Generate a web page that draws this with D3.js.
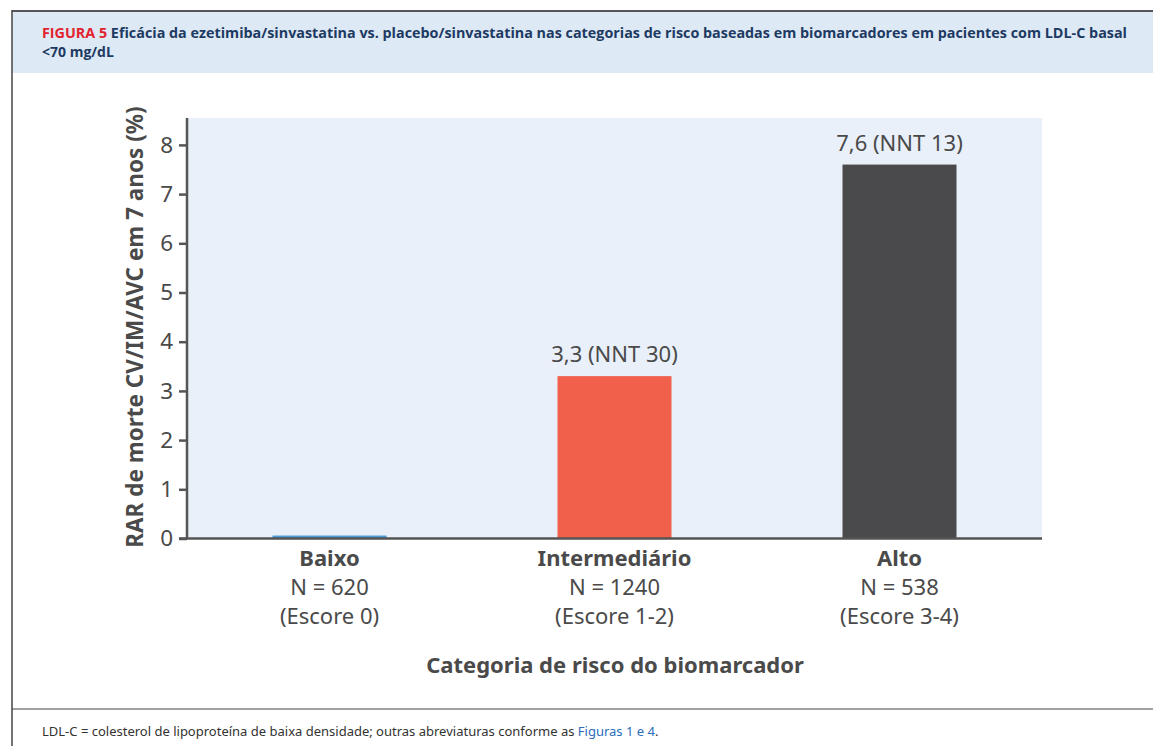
<!DOCTYPE html>
<html>
<head>
<meta charset="utf-8">
<script src="https://cdn.jsdelivr.net/npm/d3@7"></script>
<style>
  body { margin: 0; background: #fff; }
  svg { display: block; }
</style>
</head>
<body>
<svg id="chart" width="1153" height="746"></svg>
<script>
// figure 5 - RAR by biomarker risk category
var categories = ["Baixo", "Intermediário", "Alto"];
var nLabels = ["N = 620", "N = 1240", "N = 538"];
var scoreLabels = ["(Escore 0)", "(Escore 1-2)", "(Escore 3-4)"];
var rarValues = [0.06, 3.3, 7.6];
var valueLabels = ["", "3,3 (NNT 30)", "7,6 (NNT 13)"];
var barColors = ["#4a9bd6", "#f0604a", "#4a4a4d"];
var yTicks = [0, 1, 2, 3, 4, 5, 6, 7, 8];

const W = 1153, H = 746;
const plotLeft = 187, plotRight = 1042, plotTop = 118, plotBottom = 538.5;
const font = "'Noto Sans', 'Open Sans', sans-serif";

var svg = d3.select("#chart");

// frame + header band
svg.append("rect").attr("x", 12).attr("y", 11).attr("width", W - 12).attr("height", 62)
  .attr("fill", "#dde9f5");
svg.append("line").attr("x1", 12).attr("x2", W).attr("y1", 11).attr("y2", 11)
  .attr("stroke", "#555").attr("stroke-width", 2);
svg.append("line").attr("x1", 12).attr("x2", 12).attr("y1", 10).attr("y2", H)
  .attr("stroke", "#444").attr("stroke-width", 1.5);
svg.append("line").attr("x1", 12).attr("x2", W).attr("y1", 709).attr("y2", 709)
  .attr("stroke", "#444").attr("stroke-width", 1.2);

var title1 = svg.append("text")
  .attr("x", 42).attr("y", 38)
  .attr("font-family", "'Liberation Sans Narrow', 'Open Sans', sans-serif")
  .attr("font-weight", "bold").attr("font-size", 14)
  .attr("textLength", 1085).attr("lengthAdjust", "spacingAndGlyphs");
title1.append("tspan").attr("fill", "#e2232f").text("FIGURA 5  ");
title1.append("tspan").attr("fill", "#1d3a63")
  .text("Eficácia da ezetimiba/sinvastatina vs. placebo/sinvastatina nas categorias de risco baseadas em biomarcadores em pacientes com LDL-C basal");
svg.append("text")
  .attr("x", 42).attr("y", 57)
  .attr("font-family", "'Liberation Sans Narrow', 'Open Sans', sans-serif")
  .attr("font-weight", "bold").attr("font-size", 14)
  .attr("fill", "#1d3a63").text("<70 mg/dL");

// scales
var x = d3.scaleBand().domain(categories).range([plotLeft, plotRight])
  .paddingInner(0.6).paddingOuter(0.3);
var y = d3.scaleLinear().domain([0, 8]).range([plotBottom, plotBottom - 8 * 49.2]);

svg.append("rect")
  .attr("x", plotLeft).attr("y", plotTop)
  .attr("width", plotRight - plotLeft).attr("height", plotBottom - plotTop)
  .attr("fill", "#e9f0f9");

// bars
svg.append("g").selectAll("rect")
  .data(categories)
  .enter()
  .append("rect")
    .attr("x", function(d) { return x(d); })
    .attr("y", function(d, i) { return y(rarValues[i]); })
    .attr("width", x.bandwidth())
    .attr("height", function(d, i) { return y(0) - y(rarValues[i]); })
    .attr("fill", function(d, i) { return barColors[i]; });

// value labels
svg.append("g").selectAll("text")
  .data(categories)
  .enter()
  .append("text")
    .attr("x", function(d) { return x(d) + x.bandwidth() / 2; })
    .attr("y", function(d, i) { return y(rarValues[i]) - 14; })
    .attr("text-anchor", "middle")
    .attr("font-family", font).attr("font-size", 22).attr("fill", "#4a4a4a")
    .text(function(d, i) { return valueLabels[i]; });

// y axis
var yAxis = d3.axisLeft(y).tickValues(yTicks).tickSize(8).tickPadding(6).tickFormat(d3.format("d"));
var gy = svg.append("g").attr("transform", "translate(" + plotLeft + ",0)").call(yAxis);
gy.select(".domain").attr("stroke", "#555").attr("stroke-width", 2.5)
  .attr("d", "M0," + plotTop + "V" + plotBottom);
gy.selectAll(".tick line").attr("stroke", "#555").attr("stroke-width", 2.5);
gy.selectAll(".tick text").attr("font-family", font).attr("font-size", 22.5).attr("fill", "#4a4a4a");

// x axis baseline
svg.append("line").attr("x1", plotLeft - 8).attr("x2", plotRight)
  .attr("y1", plotBottom).attr("y2", plotBottom)
  .attr("stroke", "#555").attr("stroke-width", 2.5);

// category labels
var cat = svg.append("g").selectAll("g")
  .data(categories)
  .enter()
  .append("g")
    .attr("transform", function(d) { return "translate(" + (x(d) + x.bandwidth() / 2) + ",0)"; });
cat.append("text").attr("y", 566).attr("text-anchor", "middle")
  .attr("font-family", font).attr("font-weight", "bold").attr("font-size", 22).attr("fill", "#4a4a4a")
  .text(function(d) { return d; });
cat.append("text").attr("y", 595).attr("text-anchor", "middle")
  .attr("font-family", font).attr("font-size", 22).attr("fill", "#4a4a4a")
  .text(function(d, i) { return nLabels[i]; });
cat.append("text").attr("y", 624).attr("text-anchor", "middle")
  .attr("font-family", font).attr("font-size", 22).attr("fill", "#4a4a4a")
  .text(function(d, i) { return scoreLabels[i]; });

// axis titles
svg.append("text")
  .attr("transform", "translate(143," + 327 + ") rotate(-90)")
  .attr("text-anchor", "middle")
  .attr("font-family", font).attr("font-weight", "bold").attr("font-size", 22.5).attr("fill", "#4a4a4a")
  .text("RAR de morte CV/IM/AVC em 7 anos (%)");
svg.append("text")
  .attr("x", 615).attr("y", 673).attr("text-anchor", "middle")
  .attr("font-family", font).attr("font-weight", "bold").attr("font-size", 22).attr("fill", "#4a4a4a")
  .text("Categoria de risco do biomarcador");

// footnote
var foot = svg.append("text").attr("x", 42).attr("y", 736)
  .attr("font-family", font).attr("font-size", 13).attr("fill", "#333");
foot.append("tspan").text("LDL-C = colesterol de lipoproteína de baixa densidade; outras abreviaturas conforme as ");
foot.append("tspan").attr("fill", "#2a6ebb").text("Figuras 1 e 4");
foot.append("tspan").text(".");
</script>
</body>
</html>
